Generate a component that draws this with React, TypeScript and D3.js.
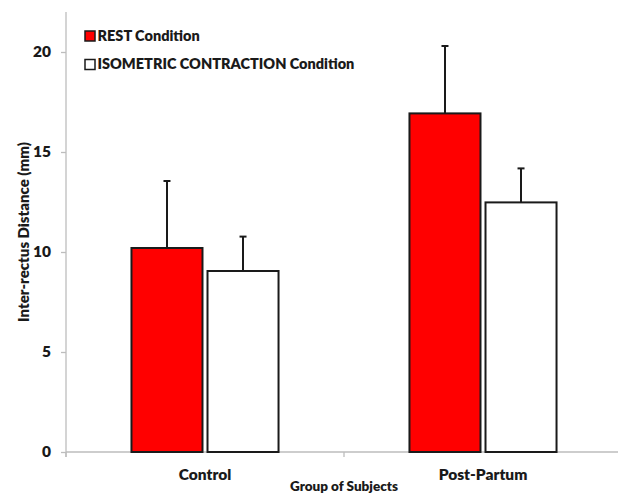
import React, { useEffect, useRef } from 'react';
import * as d3 from 'd3';

// inter-rectus distance by group, mean + SD (upper error bar only)
const groups = ['Control', 'Post-Partum'];
const seriesNames = ['REST Condition', 'ISOMETRIC CONTRACTION Condition'];
const restMeans = [10.2, 16.93];
const restSD = [3.35, 3.37];
const isoMeans = [9.05, 12.48];
const isoSD = [1.72, 1.7];
const yTicks = [0, 5, 10, 15, 20];

const seriesColors = ['#ff0000', '#ffffff'];

const width = 618;
const height = 493;
const margin = { top: 12, right: -4, bottom: 41, left: 66 };
const font = 'Lato, "Open Sans", sans-serif';

const App = () => {
  const chartRef = useRef<SVGSVGElement>(null);

  useEffect(() => {
    const svg = d3.select(chartRef.current);
    svg.selectAll('*').remove();

    const rows = groups.map((g, i) => ({
      group: g,
      values: [
        { key: seriesNames[0], mean: restMeans[i], sd: restSD[i] },
        { key: seriesNames[1], mean: isoMeans[i], sd: isoSD[i] },
      ],
    }));

    const x0 = d3.scaleBand()
      .domain(groups)
      .range([margin.left, width - margin.right])
      .paddingInner(0.471)
      .paddingOuter(0.2355);

    const x1 = d3.scaleBand()
      .domain(seriesNames)
      .range([0, x0.bandwidth()])
      .paddingInner(0.066);

    const color = d3.scaleOrdinal<string, string>().domain(seriesNames).range(seriesColors);

    const y = d3.scaleLinear()
      .domain([0, 22])
      .range([height - margin.bottom, margin.top]);

    const axisColor = '#bdbdbd';
    const ink = '#1a1a1a';

    // y axis
    const yAxis = d3.axisLeft(y).tickValues(yTicks).tickSize(5).tickPadding(10);
    svg.append('g')
      .attr('transform', `translate(${margin.left}, 0)`)
      .call(yAxis)
      .call(g => g.select('.domain').attr('stroke', axisColor).attr('stroke-width', 1.3)
        .attr('d', `M0,${y(22)}V${y(0) + 5}`))
      .call(g => g.selectAll('.tick line').attr('stroke', axisColor).attr('stroke-width', 1.3))
      .call(g => g.selectAll('.tick text')
        .attr('fill', ink)
        .attr('font-family', font)
        .attr('font-weight', 800)
        .attr('font-size', 15.5));

    // x axis: category boundaries as ticks
    const step = x0.step();
    const boundaries = [margin.left, margin.left + step, margin.left + 2 * step];
    const xg = svg.append('g');
    xg.append('line')
      .attr('x1', margin.left).attr('x2', width)
      .attr('y1', y(0)).attr('y2', y(0))
      .attr('stroke', axisColor).attr('stroke-width', 1.3);
    xg.selectAll('line.tk')
      .data(boundaries)
      .join('line')
      .attr('class', 'tk')
      .attr('x1', d => d).attr('x2', d => d)
      .attr('y1', y(0)).attr('y2', y(0) + 5)
      .attr('stroke', axisColor).attr('stroke-width', 1.3);
    xg.selectAll('text')
      .data(groups)
      .join('text')
      .attr('x', d => (x0(d) ?? 0) + x0.bandwidth() / 2)
      .attr('y', 480)
      .attr('text-anchor', 'middle')
      .attr('fill', ink)
      .attr('font-family', font)
      .attr('font-weight', 800)
      .attr('font-size', 15.5)
      .text(d => d);

    // bars
    const groupSel = svg.append('g')
      .selectAll('g')
      .data(rows)
      .join('g')
      .attr('transform', d => `translate(${x0(d.group)}, 0)`);

    groupSel.selectAll('rect')
      .data(d => d.values)
      .join('rect')
      .attr('x', d => x1(d.key) ?? 0)
      .attr('y', d => y(d.mean))
      .attr('width', x1.bandwidth())
      .attr('height', d => y(0) - y(d.mean))
      .attr('fill', d => color(d.key))
      .attr('stroke', ink)
      .attr('stroke-width', 2);

    // error bars (upper only)
    const err = groupSel.selectAll('g.err')
      .data(d => d.values)
      .join('g')
      .attr('class', 'err')
      .attr('stroke', ink)
      .attr('stroke-width', 2);
    err.append('line')
      .attr('x1', d => (x1(d.key) ?? 0) + x1.bandwidth() / 2)
      .attr('x2', d => (x1(d.key) ?? 0) + x1.bandwidth() / 2)
      .attr('y1', d => y(d.mean))
      .attr('y2', d => y(d.mean + d.sd));
    err.append('line')
      .attr('x1', d => (x1(d.key) ?? 0) + x1.bandwidth() / 2 - 3.5)
      .attr('x2', d => (x1(d.key) ?? 0) + x1.bandwidth() / 2 + 3.5)
      .attr('y1', d => y(d.mean + d.sd))
      .attr('y2', d => y(d.mean + d.sd));

    // legend
    const legend = svg.append('g')
      .selectAll('g')
      .data(seriesNames)
      .join('g')
      .attr('transform', (d, i) => `translate(85, ${31 + i * 28.5})`);
    legend.append('rect')
      .attr('width', 10).attr('height', 10)
      .attr('fill', d => color(d))
      .attr('stroke', ink)
      .attr('stroke-width', 1.5);
    legend.append('text')
      .attr('x', 12.5)
      .attr('y', 9.5)
      .attr('fill', ink)
      .attr('font-family', font)
      .attr('font-weight', 800)
      .attr('font-size', 14.5)
      .text(d => d);

    // axis titles
    svg.append('text')
      .attr('transform', `translate(29, ${232}) rotate(-90)`)
      .attr('text-anchor', 'middle')
      .attr('fill', ink)
      .attr('font-family', font)
      .attr('font-weight', 800)
      .attr('font-size', 15)
      .text('Inter-rectus Distance (mm)');

    svg.append('text')
      .attr('x', 344)
      .attr('y', 491)
      .attr('text-anchor', 'middle')
      .attr('fill', ink)
      .attr('font-family', font)
      .attr('font-weight', 800)
      .attr('font-size', 13.5)
      .text('Group of Subjects');
  });

  return (
    <svg
      ref={chartRef}
      width={width}
      height={height}
      viewBox={`0 0 ${width} ${height}`}
      style={{ position: 'fixed', left: 0, top: 0, background: '#fff' }}
    />
  );
};

export default App;
